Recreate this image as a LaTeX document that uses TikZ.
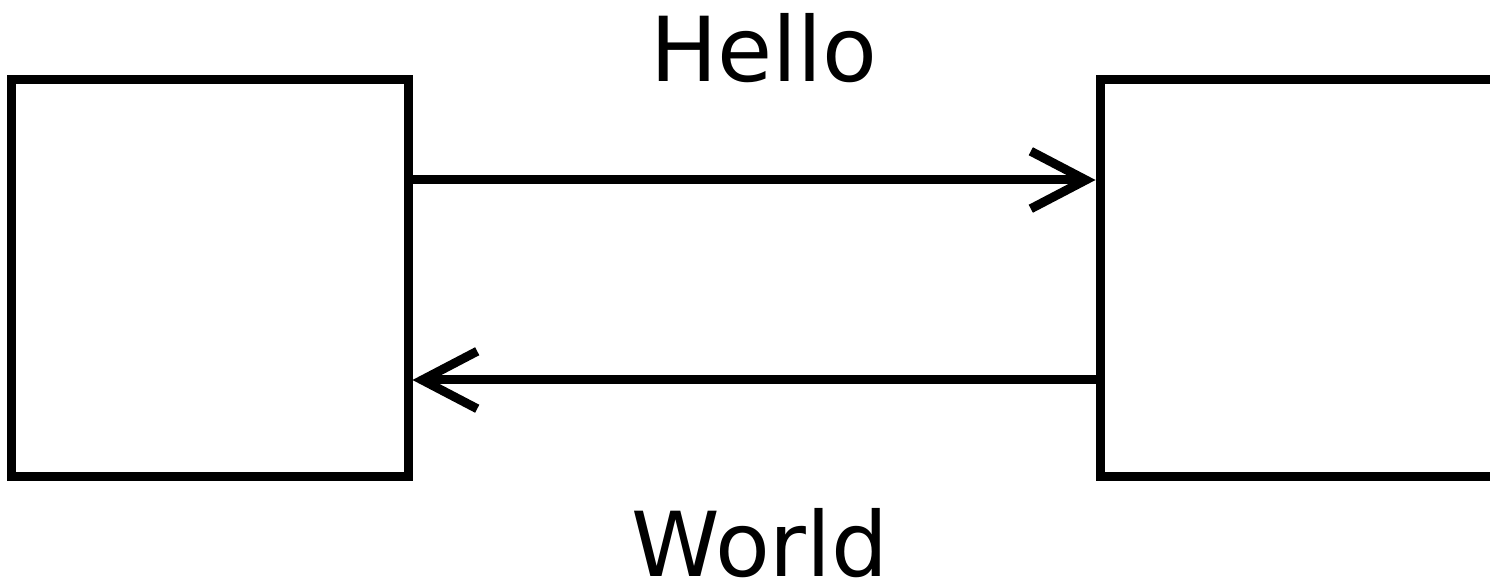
\documentclass[tikz,border=0pt]{standalone}
\usepackage{fontspec}
\setmainfont{DejaVu Sans}
\usetikzlibrary{arrows.meta}
\begin{document}
\begin{tikzpicture}[
        party/.style={draw, line width=0.18cm, minimum width=7.94cm, minimum height=7.92cm},
        msg/.style={-{Straight Barb[length=1.1cm, width=1.15cm]}, line width=0.18cm},
        lbl/.style={font=\fontsize{51}{60}\selectfont, anchor=base, inner sep=0pt},
      ]
        \useasboundingbox (0,0) rectangle (29.8,11.66);

        % Two parties
        \node[party] (left) at (4.19, 6.10) {};
        \node[party] (right) at (25.97, 6.10) {};

        % Messages
        \draw[msg] ([yshift=1.96cm]left.east) -- ([yshift=1.96cm]right.west);
        \draw[msg] ([yshift=-2.04cm]right.west) -- ([yshift=-2.04cm]left.east);

        \node[lbl] (hello) at (15.28, 10.02) {Hello};
        \node[lbl] (world) at (15.20, 0.14) {World};
      \end{tikzpicture}
\end{document}
